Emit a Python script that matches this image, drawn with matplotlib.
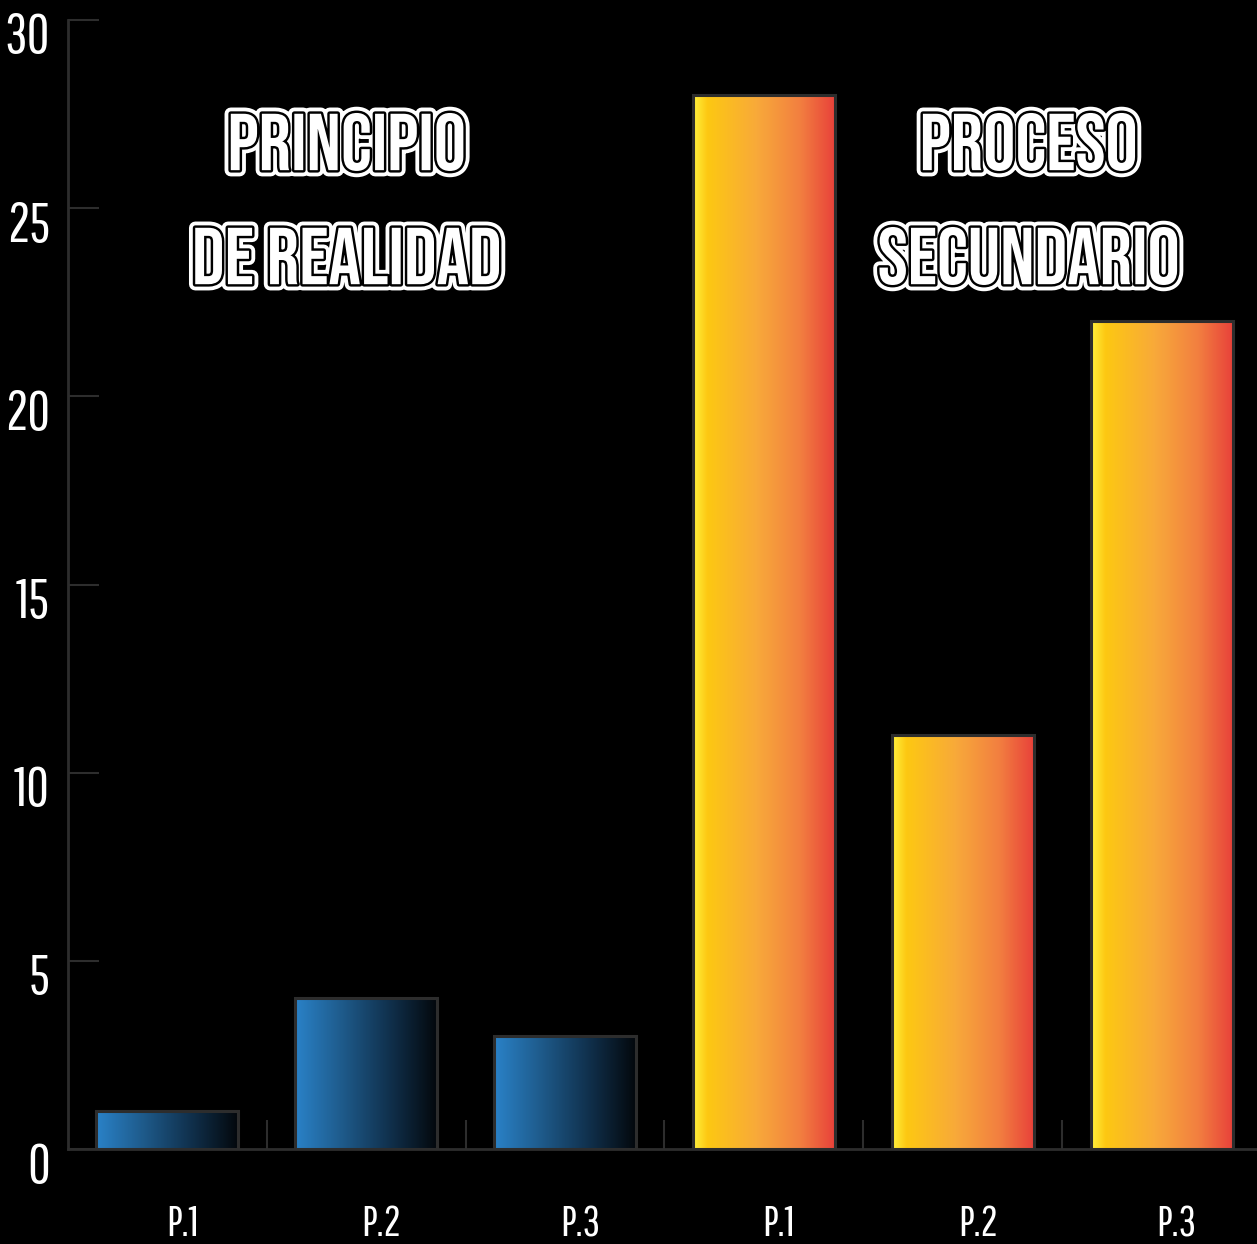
import matplotlib
matplotlib.use('Agg')
import matplotlib.pyplot as plt
import matplotlib.patheffects as pe
import numpy as np
from matplotlib.colors import LinearSegmentedColormap
from matplotlib.transforms import ScaledTranslation

# data
categories = ['P.1', 'P.2', 'P.3', 'P.1', 'P.2', 'P.3']
values = [1, 4, 3, 28, 11, 22]
groups = ['blue', 'blue', 'blue', 'orange', 'orange', 'orange']
group_titles = [['PRINCIPIO', 'DE REALIDAD'], ['PROCESO', 'SECUNDARIO']]
y_ticks = [0, 5, 10, 15, 20, 25, 30]

cmaps = {
    'blue': LinearSegmentedColormap.from_list('blue', ['#2a82c8', '#1e5a8a', '#10304c', '#03070b']),
    'orange': LinearSegmentedColormap.from_list(
        'orange', [(0, '#fff13e'), (0.1, '#fdc812'), (0.45, '#f8a93a'), (0.75, '#f27f40'), (1, '#e8403a')]),
}

GRAY = '#2d2d2d'
LABEL_FONT = 'Pathway Gothic One'
TITLE_FONT = 'Bebas Neue'

fig = plt.figure(figsize=(12.57, 12.44), dpi=100, facecolor='black')
ax = fig.add_axes([68 / 1257, 95 / 1244, 1193 / 1257, 1129 / 1244])
ax.set_facecolor('black')

x = np.arange(len(values))
bars = ax.bar(x, values, width=0.715, facecolor='none', edgecolor=GRAY, linewidth=2.2, zorder=3)

grad = np.linspace(0, 1, 256).reshape(1, -1)
for bar, g in zip(bars, groups):
    x0, w, h = bar.get_x(), bar.get_width(), bar.get_height()
    im = ax.imshow(grad, cmap=cmaps[g], aspect='auto', extent=[x0, x0 + w, 0, h], zorder=2)
    im.set_clip_path(bar)

ax.set_xlim(-0.5, len(values) - 0.5)
ax.set_ylim(0, 30)

for side in ['top', 'right']:
    ax.spines[side].set_visible(False)
for side in ['left', 'bottom']:
    ax.spines[side].set_color(GRAY)
    ax.spines[side].set_linewidth(2)
    ax.spines[side].set_zorder(4)

# y axis
ax.set_yticks(y_ticks)
ax.tick_params(axis='y', direction='in', length=22, width=1.5, color=GRAY,
               labelcolor='white', labelsize=40, pad=13)
for lab in ax.get_yticklabels():
    lab.set_family(LABEL_FONT)
    lab.set_va('baseline')
    lab.set_transform(lab.get_transform() + ScaledTranslation(0, -0.335, fig.dpi_scale_trans))

# x axis: separators at the boundaries, labels on the centres
ax.set_xticks(np.arange(len(values) - 1) + 0.5)
ax.set_xticklabels([])
ax.set_xticks(x, minor=True)
ax.set_xticklabels(categories, minor=True)
ax.tick_params(axis='x', which='major', direction='in', length=21, width=1.5, color=GRAY)
ax.tick_params(axis='x', which='minor', length=0, labelcolor='white', labelsize=31, pad=63)
for lab in ax.get_xticklabels(minor=True):
    lab.set_family(LABEL_FONT)
    lab.set_va('baseline')
    lab.set_transform(lab.get_transform() + ScaledTranslation(0.15, 0, fig.dpi_scale_trans))

# group titles, white with a black inline
title_fx = [pe.Stroke(linewidth=9, foreground='white'),
            pe.Stroke(linewidth=3.5, foreground='black'),
            pe.Normal()]
title_x = [0.9, 4.33]          # centre of each title, in category units
title_base = [0.867, 0.766]    # baseline of each line, in axes fraction
for tx, lines in zip(title_x, group_titles):
    for line, ty in zip(lines, title_base):
        ax.text(tx, ty, line, transform=ax.get_xaxis_transform(),
                ha='center', va='baseline', color='white',
                family=TITLE_FONT, fontsize=58,
                path_effects=title_fx, zorder=5)

fig.savefig('out.png', dpi=100, facecolor='black')
